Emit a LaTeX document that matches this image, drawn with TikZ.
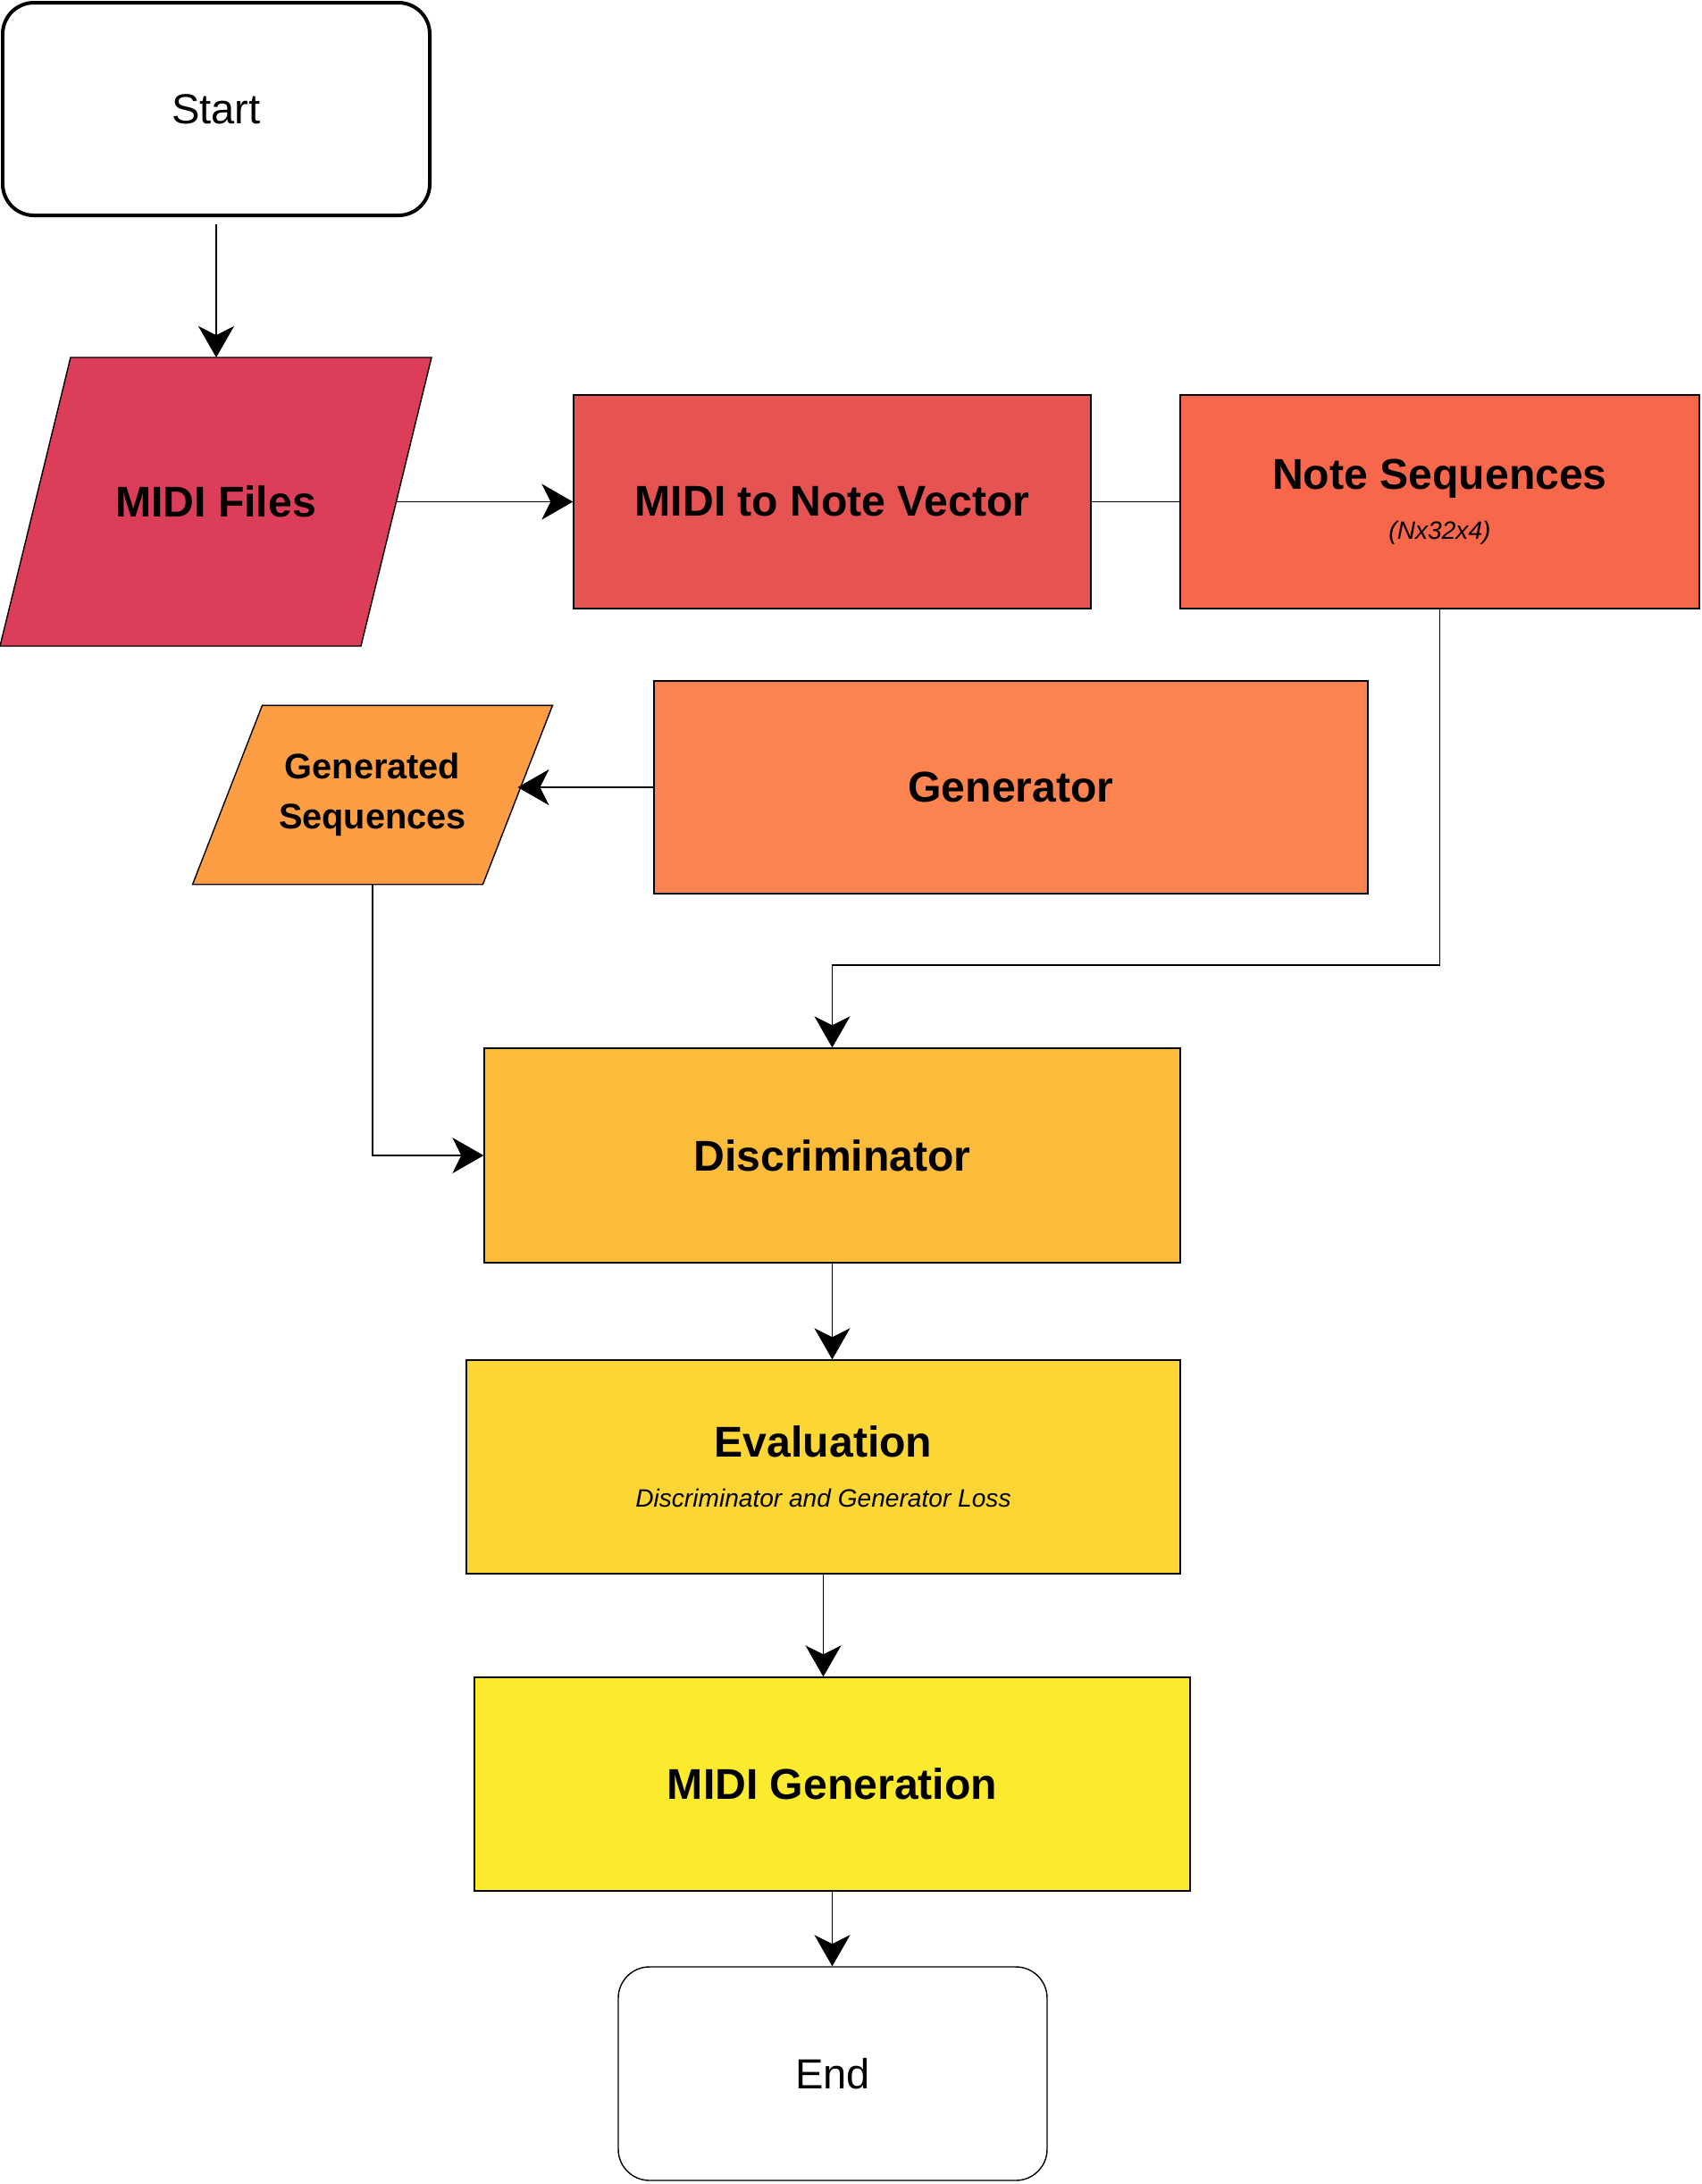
\documentclass[tikz,border=0pt]{standalone}
\usepackage{fontspec}
\setmainfont{Liberation Sans}
\usetikzlibrary{calc}
\usetikzlibrary{shapes.geometric}
\usetikzlibrary{positioning}
\usetikzlibrary{arrows.meta}
\usetikzlibrary{backgrounds}
\definecolor{filesred}{HTML}{DC3E5A}
\definecolor{vecred}{HTML}{E55353}
\definecolor{seqcoral}{HTML}{F6674C}
\definecolor{genorange}{HTML}{FB8350}
\definecolor{gensqorange}{HTML}{FD9E45}
\definecolor{discamber}{HTML}{FBBB3B}
\definecolor{evalyellow}{HTML}{FBD634}
\definecolor{midiyellow}{HTML}{FBEA2D}
\tikzstyle{term} = [rectangle, draw, rounded corners=0.35cm, fill=white,
    minimum width=4.78cm, minimum height=2.38cm, font=\fontsize{13.4}{16}\selectfont]
\tikzstyle{io} = [rectangle, inner sep=0pt, align=center,
    font=\fontsize{13.7}{16}\selectfont\bfseries]
\tikzstyle{f} = [rectangle, draw, minimum height=2.39cm, align=center,
    font=\fontsize{13.7}{16}\selectfont\bfseries]
\tikzstyle{line} = [draw, -{Stealth[length=0.35cm, width=0.40cm, inset=0.1cm]}]
\newcommand{\subtext}[1]{{\fontsize{8}{9.6}\selectfont\mdseries\itshape #1}}
% slanted outline round an io node: node name, half slant, fill colour
\newcommand{\slantbox}[3]{%
    \begin{pgfonlayer}{background}
    \draw [fill=#3] ($(#1.north west)+(#2,0)$) -- ($(#1.north east)+(#2,0)$)
        -- ($(#1.south east)-(#2,0)$) -- ($(#1.south west)-(#2,0)$) -- cycle;
    \end{pgfonlayer}}

\begin{document}
\begin{tikzpicture}[line width=0.04cm]
    \useasboundingbox (0,0) rectangle (19.04,-24.44);
    % Place nodes
    \node [term] (start) at (2.42,-1.22) {Start};
    \node [io, minimum width=4.00cm, minimum height=3.19cm] (files) at (2.415,-5.615) {MIDI Files};
    \slantbox{files}{0.395}{filesred}
    \node [f, fill=vecred, minimum width=5.79cm] (tovec) at (9.315,-5.615) {MIDI to Note Vector};
    \node [f, fill=seqcoral, minimum width=5.81cm] (notes) at (16.115,-5.615) {Note Sequences\\\subtext{(Nx32x4)}};
    \node [f, fill=genorange, minimum width=7.99cm, minimum height=2.38cm] (gen) at (11.315,-8.81) {Generator};
    \node [io, minimum width=3.235cm, minimum height=1.99cm,
        font=\fontsize{11.3}{16}\selectfont\bfseries] (gensq) at (4.17,-8.895) {Generated\\Sequences};
    \slantbox{gensq}{0.39}{gensqorange}
    \node [f, fill=discamber, minimum width=7.79cm, minimum height=2.40cm] (disc) at (9.315,-12.93) {Discriminator};
    \node [f, fill=evalyellow, minimum width=7.99cm] (eval) at (9.215,-16.415) {Evaluation\\\subtext{Discriminator and Generator Loss}};
    \node [f, fill=midiyellow, minimum width=8.01cm] (midigen) at (9.315,-19.965) {MIDI Generation};
    \node [term, minimum width=4.80cm, minimum height=2.39cm] (end) at (9.32,-23.205) {End};
    \coordinate (bend) at (0,-10.8);
    % Draw edges
    \path [line, shorten <=0.08cm] (start.south) -- (files.north -| start.south);
    \path [line] (files.east) -- (tovec.west);
    \draw (tovec.east) -- (notes.west);
    \path [line] (notes.south) -- (notes.south |- bend) -| (disc.north);
    \path [line] (gen.west) -- (gen.west -| gensq.east);
    \path [line] (gensq.south) |- (disc.west);
    \path [line] (disc.south) -- (disc.south |- eval.north);
    \path [line] (eval.south) -- (eval.south |- midigen.north);
    \path [line] (midigen.south) -- (midigen.south |- end.north);
\end{tikzpicture}
\end{document}
